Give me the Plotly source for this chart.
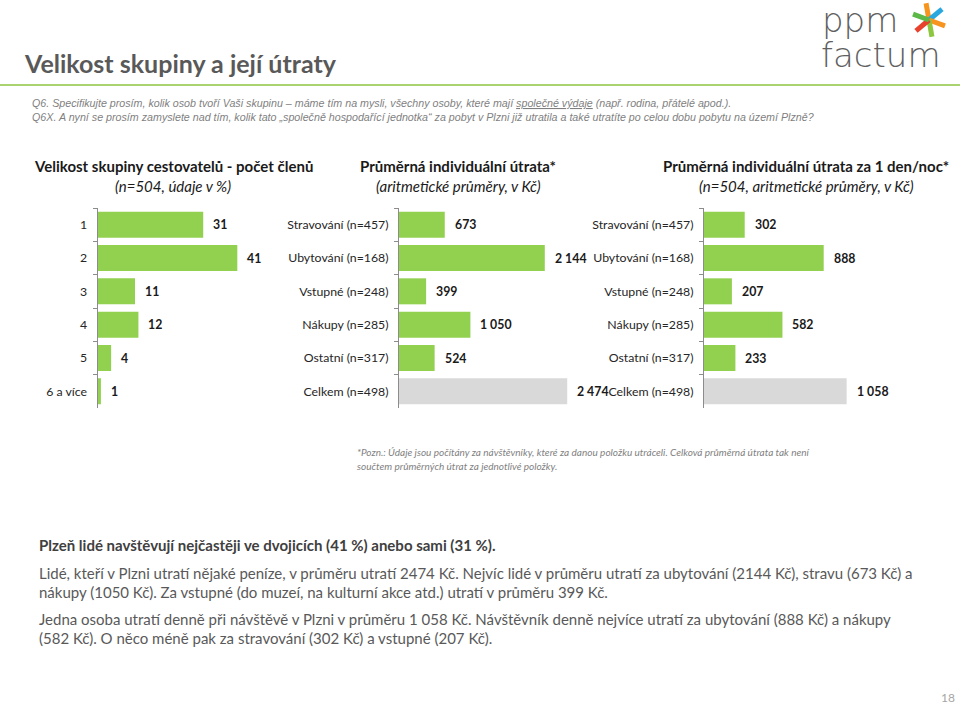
import plotly.graph_objects as go
import math

W, H = 960, 704

# ---------------- data ----------------
size_categories = ["1", "2", "3", "4", "5", "6 a více"]
size_values = [31, 41, 11, 12, 4, 1]

spend_categories = ["Stravování (n=457)", "Ubytování (n=168)", "Vstupné (n=248)",
                    "Nákupy (n=285)", "Ostatní (n=317)", "Celkem (n=498)"]
spend_total = [673, 2144, 399, 1050, 524, 2474]
spend_daily = [302, 888, 207, 582, 233, 1058]

GREEN = "#92d050"
GREY_BAR = "#d9d9d9"
TEXT = "#595959"
FONT = "Lato"


def px(x):
    return x / W


def py(y):
    return 1 - y / H


fig = go.Figure()

bar_colors_spend = [GREEN] * 5 + [GREY_BAR]

fig.add_trace(go.Bar(x=size_values, y=size_categories, orientation="h",
                     marker=dict(color=GREEN, line=dict(width=0)),
                     xaxis="x", yaxis="y", hoverinfo="skip"))
fig.add_trace(go.Bar(x=spend_total, y=spend_categories, orientation="h",
                     marker=dict(color=bar_colors_spend, line=dict(width=0)),
                     xaxis="x2", yaxis="y2", hoverinfo="skip"))
fig.add_trace(go.Bar(x=spend_daily, y=spend_categories, orientation="h",
                     marker=dict(color=bar_colors_spend, line=dict(width=0)),
                     xaxis="x3", yaxis="y3", hoverinfo="skip"))

y_dom = [py(408), py(208)]


def xaxis(d0, d1, rng, anchor):
    return dict(domain=[px(d0), px(d1)], range=rng, visible=False,
                anchor=anchor, fixedrange=True)


def yaxis(anchor):
    return dict(domain=y_dom, anchor=anchor, type="category",
                autorange="reversed", showline=True, linecolor="#8c8c8c",
                linewidth=1, ticks="outside", tickson="boundaries", ticklen=4,
                tickcolor="#8c8c8c", ticklabelstandoff=7, showgrid=False,
                tickfont=dict(family=FONT, size=12.3, color="#262626"),
                fixedrange=True)


annotations = []


def fmt(v):
    return f"{v:,}".replace(",", " ")


for vals, xr, yr in [(size_values, "x", "y"),
                     (spend_total, "x2", "y2"),
                     (spend_daily, "x3", "y3")]:
    for i, v in enumerate(vals):
        annotations.append(dict(x=v, y=i, xref=xr, yref=yr, text=fmt(v),
                                showarrow=False, xanchor="left", yanchor="middle",
                                xshift=8, font=dict(family=FONT, size=12.3,
                                                    color="#1a1a1a", weight="bold")))


def note(x, y, text, size, color=TEXT, anchor="left", weight="normal",
         style="normal", family=FONT):
    annotations.append(dict(x=px(x), y=py(y), xref="paper", yref="paper",
                            text=text, showarrow=False, xanchor=anchor,
                            yanchor="middle", align=anchor,
                            font=dict(family=family, size=size, color=color,
                                      weight=weight, style=style)))


# title
note(22, 63, "Velikost skupiny a její útraty", 25, color="#595959", weight="bold")

# question text
note(30, 103, "Q6. Specifikujte prosím, kolik osob tvoří Vaši skupinu – máme tím na mysli, "
     "všechny osoby, které mají <u>společné výdaje</u> (např. rodina, přátelé apod.).",
     10.7, color="#7f7f7f", style="italic", family="Liberation Sans")
note(30, 117, "Q6X. A nyní se prosím zamyslete nad tím, kolik tato „společně hospodařící "
     "jednotka“ za pobyt v Plzni již utratila a také utratíte po celou dobu pobytu na území Plzně?",
     10.7, color="#7f7f7f", style="italic", family="Liberation Sans")

# chart headers
HS = 15
note(173, 166, "Velikost skupiny cestovatelů - počet členů", HS, color="#1a1a1a",
     anchor="center", weight="bold")
note(173, 186, "(n=504, údaje v %)", HS, color="#1a1a1a", anchor="center",
     style="italic")
note(458, 166, "Průměrná individuální útrata*", HS, color="#1a1a1a",
     anchor="center", weight="bold")
note(458, 186, "(aritmetické průměry, v Kč)", HS, color="#1a1a1a", anchor="center",
     style="italic")
note(806, 166, "Průměrná individuální útrata za 1 den/noc*", HS, color="#1a1a1a",
     anchor="center", weight="bold")
note(806, 186, "(n=504, aritmetické průměry, v Kč)", HS, color="#1a1a1a",
     anchor="center", style="italic")

# footnote
note(355, 452, "*Pozn.: Údaje jsou počítány za návštěvníky, které za danou položku utráceli. "
     "Celková průměrná útrata tak není", 10, color="#7f7f7f", style="italic")
note(355, 466, "součtem průměrných útrat za jednotlivé položky.", 10,
     color="#7f7f7f", style="italic")

# bottom commentary
BS = 15
note(37, 545, "Plzeň lidé navštěvují nejčastěji ve dvojicích (41 %) anebo sami (31 %).",
     BS, color="#404040", weight="bold")
note(37, 573, "Lidé, kteří v Plzni utratí nějaké peníze, v průměru utratí 2474 Kč. Nejvíc lidé "
     "v průměru utratí za ubytování (2144 Kč), stravu (673 Kč) a", BS)
note(37, 592, "nákupy (1050 Kč). Za vstupné (do muzeí, na kulturní akce atd.) utratí v průměru 399 Kč.", BS)
note(37, 619, "Jedna osoba utratí denně při návštěvě v Plzni v průměru 1 058 Kč. Návštěvník denně "
     "nejvíce utratí za ubytování (888 Kč) a nákupy", BS)
note(37, 638, "(582 Kč). O něco méně pak za stravování (302 Kč) a vstupné (207 Kč).", BS)

# page number
note(948, 697, "18", 12, color="#a6a6a6", anchor="center")

# logo text
note(820, 20, "ppm", 34, color="#606060", family="DejaVu Sans", weight=200)
note(819, 55, "factum", 34, color="#606060", family="DejaVu Sans", weight=200)

shapes = [dict(type="line", xref="paper", yref="paper", x0=0, x1=1,
               y0=py(85), y1=py(85), line=dict(color="#8dc63f", width=1.5))]

# logo asterisk
cx, cy, L = 929, 20, 17
arms = [(100, "#f7941d"), (40, "#29a8e0"), (-20, "#f7941d"),
        (-80, "#8dc63f"), (-140, "#e8412c"), (160, "#5cb947")]
for ang, col in arms:
    a = math.radians(ang)
    x1 = cx + L * math.cos(a)
    y1 = cy - L * math.sin(a)
    shapes.append(dict(type="line", xref="paper", yref="paper",
                       x0=px(cx), y0=py(cy), x1=px(x1), y1=py(y1),
                       line=dict(color=col, width=5)))

fig.update_layout(
    width=W, height=H,
    margin=dict(l=0, r=0, t=0, b=0),
    paper_bgcolor="white", plot_bgcolor="white",
    showlegend=False, bargap=0.22,
    separators=", ",
    font=dict(family=FONT, color=TEXT),
    xaxis=xaxis(97.5, 260, [0, (260 - 97.5) / 3.41], "y"),
    yaxis=yaxis("x"),
    xaxis2=xaxis(399, 580, [0, 181 / 0.068], "y2"),
    yaxis2=yaxis("x2"),
    xaxis3=xaxis(704, 900, [0, 196 / 0.1348], "y3"),
    yaxis3=yaxis("x3"),
    annotations=annotations,
    shapes=shapes,
)

fig.write_html("out.html", config={"displayModeBar": False})

# remove the default page margin so the figure sits at the window's origin
with open("out.html", "r", encoding="utf-8") as f:
    html = f.read()
html = html.replace("<head>", "<head><style>html,body{margin:0;padding:0;overflow:hidden;}</style>", 1)
with open("out.html", "w", encoding="utf-8") as f:
    f.write(html)
